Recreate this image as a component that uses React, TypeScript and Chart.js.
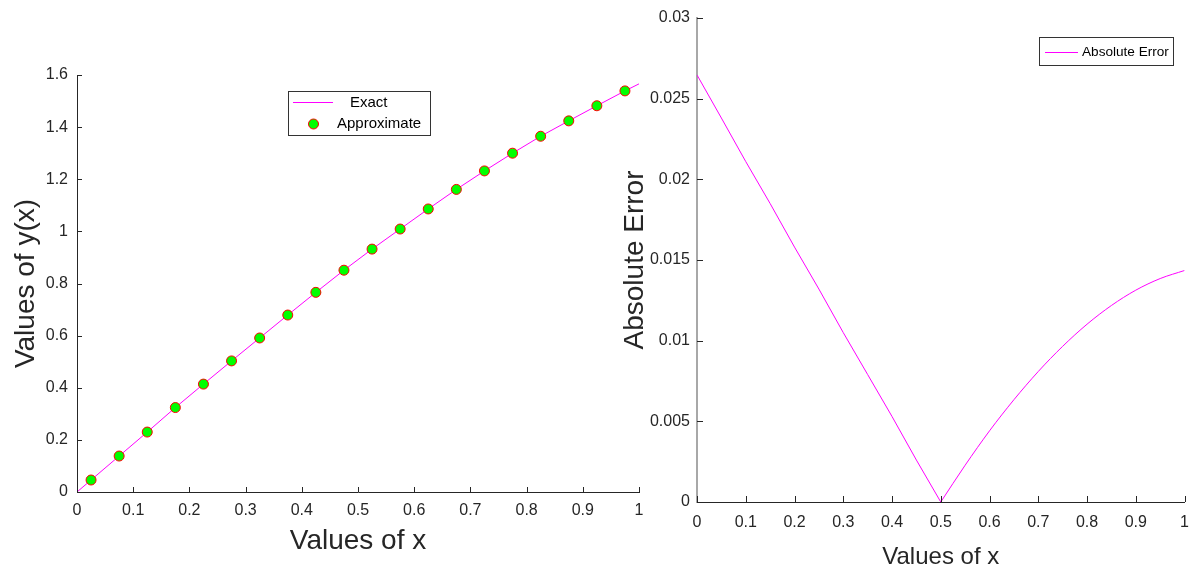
import React, { useEffect, useRef } from "react";
import { Chart, registerables } from "chart.js";

Chart.register(...registerables);

// ---------- Data: left chart ----------
const approxX = [0.025, 0.075, 0.125, 0.175, 0.225, 0.275, 0.325, 0.375, 0.425, 0.475, 0.525, 0.575, 0.625, 0.675, 0.725, 0.775, 0.825, 0.875, 0.925, 0.975];
const approxY = [0.046, 0.138, 0.230, 0.324, 0.414, 0.503, 0.591, 0.679, 0.766, 0.851, 0.932, 1.009, 1.086, 1.161, 1.232, 1.300, 1.365, 1.424, 1.482, 1.539];
const exactX = [0, 0.025, 0.075, 0.125, 0.175, 0.225, 0.275, 0.325, 0.375, 0.425, 0.475, 0.525, 0.575, 0.625, 0.675, 0.725, 0.775, 0.825, 0.875, 0.925, 0.975, 1];
const exactY = [0, 0.046, 0.138, 0.230, 0.324, 0.414, 0.503, 0.591, 0.679, 0.766, 0.851, 0.932, 1.009, 1.086, 1.161, 1.232, 1.300, 1.365, 1.424, 1.482, 1.539, 1.566];
const leftXTicks = [0, 0.1, 0.2, 0.3, 0.4, 0.5, 0.6, 0.7, 0.8, 0.9, 1];
const leftYTicks = [0, 0.2, 0.4, 0.6, 0.8, 1, 1.2, 1.4, 1.6];

// ---------- Data: right chart ----------
const errLeftX = [0, 0.05, 0.1, 0.15, 0.2, 0.25, 0.3, 0.35, 0.4, 0.45, 0.5];
const errLeftY = [0.02647, 0.0238, 0.0211, 0.0185, 0.0158, 0.0132, 0.0105, 0.0079, 0.0053, 0.0026, 0];
const errRightX = [0.5, 0.55, 0.6, 0.65, 0.7, 0.75, 0.8, 0.85, 0.9, 0.95, 1];
const errRightY = [0, 0.00228, 0.00441, 0.00634, 0.00809, 0.00965, 0.01102, 0.01218, 0.01313, 0.01385, 0.01435];
const rightXTicks = [0, 0.1, 0.2, 0.3, 0.4, 0.5, 0.6, 0.7, 0.8, 0.9, 1];
const rightYTicks = [0, 0.005, 0.01, 0.015, 0.02, 0.025, 0.03];

const FONT = "'Liberation Sans', Arial, Helvetica, sans-serif";
const AXIS = "#262626";
const MAGENTA = "#ff00ff";

const fmt = (v: number) => String(Number(v.toFixed(4)));
const pts = (xs: number[], ys: number[]) => xs.map((x, i) => ({ x, y: ys[i] }));

function inwardTicks(len: number, color: string) {
  return {
    id: "inwardTicks",
    afterDraw(chart: any) {
      const { ctx, chartArea, scales } = chart;
      ctx.save();
      ctx.strokeStyle = color;
      ctx.lineWidth = 1;
      const xs = scales.x;
      const ys = scales.y;
      xs.ticks.forEach((t: any) => {
        const px = Math.round(xs.getPixelForValue(t.value)) + 0.5;
        ctx.beginPath();
        ctx.moveTo(px, chartArea.bottom);
        ctx.lineTo(px, chartArea.bottom - len);
        ctx.stroke();
      });
      ys.ticks.forEach((t: any) => {
        const py = Math.round(ys.getPixelForValue(t.value)) + 0.5;
        ctx.beginPath();
        ctx.moveTo(chartArea.left, py);
        ctx.lineTo(chartArea.left + len, py);
        ctx.stroke();
      });
      ctx.restore();
    },
  };
}

const leftLegend = {
  id: "leftLegend",
  afterDraw(chart: any) {
    const ctx = chart.ctx;
    ctx.save();
    ctx.fillStyle = "#ffffff";
    ctx.fillRect(288.5, 91.5, 142, 44);
    ctx.strokeStyle = "#333333";
    ctx.lineWidth = 1;
    ctx.strokeRect(288.5, 91.5, 142, 44);
    ctx.strokeStyle = MAGENTA;
    ctx.beginPath();
    ctx.moveTo(293, 102.5);
    ctx.lineTo(333, 102.5);
    ctx.stroke();
    ctx.beginPath();
    ctx.arc(313.5, 124, 5, 0, Math.PI * 2);
    ctx.fillStyle = "#00ff00";
    ctx.fill();
    ctx.strokeStyle = "#ff0000";
    ctx.stroke();
    ctx.fillStyle = "#000000";
    ctx.font = `15px ${FONT}`;
    ctx.textBaseline = "middle";
    ctx.textAlign = "left";
    ctx.fillText("Exact", 350, 102.5);
    ctx.fillText("Approximate", 337, 124);
    ctx.restore();
  },
};

const rightLegend = {
  id: "rightLegend",
  afterDraw(chart: any) {
    const ctx = chart.ctx;
    ctx.save();
    ctx.fillStyle = "#ffffff";
    ctx.fillRect(1039.5, 37.5, 134, 28);
    ctx.strokeStyle = "#333333";
    ctx.lineWidth = 1;
    ctx.strokeRect(1039.5, 37.5, 134, 28);
    ctx.strokeStyle = MAGENTA;
    ctx.beginPath();
    ctx.moveTo(1045, 52.5);
    ctx.lineTo(1078, 52.5);
    ctx.stroke();
    ctx.fillStyle = "#000000";
    ctx.font = `13.6px ${FONT}`;
    ctx.textBaseline = "middle";
    ctx.textAlign = "left";
    ctx.fillText("Absolute Error", 1082, 52.5);
    ctx.restore();
  },
};

function LeftChart() {
  const ref = useRef<HTMLCanvasElement | null>(null);
  useEffect(() => {
    const chart = new Chart(ref.current as HTMLCanvasElement, {
      type: "line",
      data: {
        datasets: [
          {
            label: "Approximate",
            data: pts(approxX, approxY),
            showLine: false,
            pointRadius: 5,
            pointBackgroundColor: "#00ff00",
            pointBorderColor: "#ff0000",
            pointBorderWidth: 1,
            order: 0,
          },
          {
            label: "Exact",
            data: pts(exactX, exactY),
            borderColor: MAGENTA,
            borderWidth: 1,
            pointRadius: 0,
            tension: 0,
            order: 1,
          },
        ],
      },
      options: {
        responsive: false,
        animation: false,
        devicePixelRatio: 1,
        layout: { padding: { left: 9, top: 75, right: 561, bottom: 0 } },
        plugins: { legend: { display: false }, tooltip: { enabled: false } },
        scales: {
          x: {
            type: "linear",
            min: 0,
            max: 1,
            afterBuildTicks: (s: any) => { s.ticks = leftXTicks.map((v) => ({ value: v })); },
            afterFit: (s: any) => { s.height = 80; },
            grid: { display: false, drawTicks: false },
            border: { display: true, color: AXIS, width: 1 },
            ticks: { autoSkip: false, maxRotation: 0, padding: 9, color: AXIS, font: { size: 16, family: FONT }, callback: (v: any) => fmt(Number(v)) },
            title: { display: true, text: "Values of x", color: AXIS, font: { size: 28, family: FONT }, padding: { top: 0, bottom: 14 } },
          },
          y: {
            type: "linear",
            min: 0,
            max: 1.6,
            afterBuildTicks: (s: any) => { s.ticks = leftYTicks.map((v) => ({ value: v })); },
            afterFit: (s: any) => { s.width = 68; },
            grid: { display: false, drawTicks: false },
            border: { display: true, color: AXIS, width: 1 },
            ticks: { autoSkip: false, padding: 9, color: AXIS, font: { size: 16, family: FONT }, callback: (v: any) => fmt(Number(v)) },
            title: { display: true, text: "Values of y(x)", color: AXIS, font: { size: 28, family: FONT }, padding: { top: 0, bottom: 0 } },
          },
        },
      },
      plugins: [inwardTicks(5, AXIS), leftLegend],
    } as any);
    return () => chart.destroy();
  }, []);
  return <canvas ref={ref} width={1200} height={572} style={{ position: "absolute", left: 0, top: 0 }} />;
}

function RightChart() {
  const ref = useRef<HTMLCanvasElement | null>(null);
  useEffect(() => {
    const chart = new Chart(ref.current as HTMLCanvasElement, {
      type: "line",
      data: {
        datasets: [
          {
            label: "Absolute Error",
            data: pts(errLeftX, errLeftY),
            borderColor: MAGENTA,
            borderWidth: 1,
            pointRadius: 0,
            tension: 0,
          },
          {
            label: "Absolute Error (b)",
            data: pts(errRightX, errRightY),
            borderColor: MAGENTA,
            borderWidth: 1,
            pointRadius: 0,
            cubicInterpolationMode: "monotone",
          },
        ],
      },
      options: {
        responsive: false,
        animation: false,
        devicePixelRatio: 1,
        layout: { padding: { left: 618, top: 18, right: 12, bottom: 0 } },
        plugins: { legend: { display: false }, tooltip: { enabled: false } },
        scales: {
          x: {
            type: "linear",
            min: 0,
            max: 1,
            afterBuildTicks: (s: any) => { s.ticks = rightXTicks.map((v) => ({ value: v })); },
            afterFit: (s: any) => { s.height = 70; },
            grid: { display: false, drawTicks: false },
            border: { display: true, color: AXIS, width: 1 },
            ticks: { autoSkip: false, maxRotation: 0, padding: 11, color: AXIS, font: { size: 16, family: FONT }, callback: (v: any) => fmt(Number(v)) },
            title: { display: true, text: "Values of x", color: AXIS, font: { size: 24, family: FONT }, padding: { top: 0, bottom: 0 } },
          },
          y: {
            type: "linear",
            min: 0,
            max: 0.03,
            afterBuildTicks: (s: any) => { s.ticks = rightYTicks.map((v) => ({ value: v })); },
            afterFit: (s: any) => { s.width = 79; },
            grid: { display: false, drawTicks: false },
            border: { display: true, color: "#a8a8a8", width: 2 },
            ticks: { autoSkip: false, padding: 7, color: AXIS, font: { size: 16, family: FONT }, callback: (v: any) => fmt(Number(v)) },
            title: { display: true, text: "Absolute Error", color: AXIS, font: { size: 28, family: FONT }, padding: { top: 0, bottom: 0 } },
          },
        },
      },
      plugins: [inwardTicks(6, AXIS), rightLegend],
    } as any);
    return () => chart.destroy();
  }, []);
  return <canvas ref={ref} width={1200} height={572} style={{ position: "absolute", left: 0, top: 0 }} />;
}

export default function App() {
  return (
    <div style={{ position: "fixed", left: 0, top: 0, width: 1200, height: 572, background: "#ffffff" }}>
      <LeftChart />
      <RightChart />
    </div>
  );
}
